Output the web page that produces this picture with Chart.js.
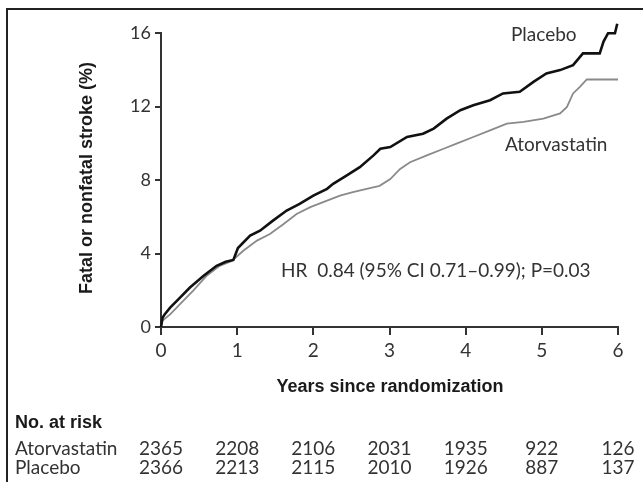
<!DOCTYPE html>
<html>
<head>
<meta charset="utf-8">
<script src="https://cdn.jsdelivr.net/npm/chart.js@4"></script>
<style>
  html, body { margin: 0; padding: 0; background: #fff; }
  #wrap { width: 643px; height: 482px; }
</style>
</head>
<body>
<div id="wrap"><canvas id="c" width="643" height="482"></canvas></div>
<script>
// ---- data ----
const placeboYears = [0, 0.02, 0.05, 0.12, 0.25, 0.38, 0.56, 0.73, 0.85, 0.95, 1.01, 1.17, 1.30, 1.47, 1.65, 1.82, 2.0, 2.18, 2.26, 2.44, 2.61, 2.79, 2.88, 3.01, 3.23, 3.44, 3.58, 3.75, 3.93, 4.10, 4.32, 4.49, 4.71, 4.89, 5.06, 5.24, 5.41, 5.54, 5.76, 5.81, 5.87, 5.96, 5.99];
const placeboPct   = [0, 0.5, 0.7, 1.05, 1.6, 2.15, 2.79, 3.33, 3.55, 3.65, 4.3, 4.97, 5.24, 5.79, 6.34, 6.70, 7.15, 7.52, 7.79, 8.25, 8.70, 9.34, 9.70, 9.79, 10.34, 10.52, 10.80, 11.34, 11.80, 12.07, 12.34, 12.71, 12.80, 13.34, 13.80, 13.98, 14.25, 14.89, 14.89, 15.53, 15.99, 15.99, 16.5];

const atorvaYears = [0, 0.02, 0.12, 0.25, 0.42, 0.60, 0.77, 0.93, 1.08, 1.26, 1.43, 1.61, 1.78, 1.96, 2.18, 2.35, 2.52, 2.70, 2.87, 3.01, 3.14, 3.27, 3.49, 3.71, 3.88, 4.10, 4.32, 4.54, 4.76, 5.02, 5.24, 5.33, 5.41, 5.50, 5.59, 6.0];
const atorvaPct   = [0, 0.35, 0.69, 1.24, 1.97, 2.79, 3.33, 3.6, 4.15, 4.70, 5.06, 5.61, 6.15, 6.52, 6.88, 7.15, 7.34, 7.52, 7.68, 8.05, 8.6, 8.97, 9.34, 9.70, 9.98, 10.34, 10.70, 11.07, 11.16, 11.34, 11.62, 11.98, 12.71, 13.07, 13.47, 13.47];

const xTicks = [0, 1, 2, 3, 4, 5, 6];
const yTicks = [0, 4, 8, 12, 16];

const riskYears   = [0, 1, 2, 3, 4, 5, 6];
const riskAtorva  = [2365, 2208, 2106, 2031, 1935, 922, 126];
const riskPlacebo = [2366, 2213, 2115, 2010, 1926, 887, 137];

const yTitle = "Fatal or nonfatal stroke (%)";
const xTitle = "Years since randomization";
const hrText = "HR  0.84 (95% CI 0.71\u20130.99); P=0.03";

// ---- helpers ----
const toXY = (xs, ys) => xs.map((x, i) => ({ x: x, y: ys[i] }));
const TXT = "#333";
const SANS = "Lato, 'Open Sans', sans-serif";
const BOLD = "bold 18px 'Liberation Sans', Arial, sans-serif";
const REG = "19px " + SANS;

const decor = {
  id: "decor",
  beforeDraw(chart) {
    const ctx = chart.ctx;
    ctx.save();
    ctx.strokeStyle = "#222";
    ctx.lineWidth = 2;
    ctx.beginPath();
    ctx.moveTo(7, 482);
    ctx.lineTo(7, 9);
    ctx.lineTo(643, 9);
    ctx.stroke();
    ctx.restore();
  },
  afterDraw(chart) {
    const ctx = chart.ctx;
    const xs = chart.scales.x, ys = chart.scales.y;
    const ca = chart.chartArea;
    ctx.save();
    // y title
    ctx.fillStyle = "#1a1a1a";
    ctx.font = BOLD;
    ctx.textAlign = "center";
    ctx.textBaseline = "middle";
    ctx.save();
    ctx.translate(87, 178);
    ctx.rotate(-Math.PI / 2);
    ctx.fillText(yTitle, 0, 0);
    ctx.restore();
    // x title
    ctx.fillText(xTitle, 390, 387);
    // series labels
    ctx.fillStyle = TXT;
    ctx.font = REG;
    ctx.textAlign = "left";
    ctx.fillText("Placebo", 511, 35);
    ctx.fillText("Atorvastatin", 505, 145);
    // HR
    ctx.fillText(hrText, 281, 271);
    // risk table
    ctx.fillStyle = "#1a1a1a";
    ctx.font = BOLD;
    ctx.fillText("No. at risk", 15, 423);
    ctx.fillStyle = TXT;
    ctx.font = REG;
    ctx.fillText("Atorvastatin", 15, 449);
    ctx.fillText("Placebo", 15, 468);
    ctx.textAlign = "center";
    riskYears.forEach((yr, i) => {
      const px = xs.getPixelForValue(yr);
      ctx.fillText(String(riskAtorva[i]), px, 449);
      ctx.fillText(String(riskPlacebo[i]), px, 468);
    });
    ctx.restore();
  }
};

new Chart(document.getElementById("c"), {
  type: "line",
  data: {
    datasets: [
      {
        label: "Placebo",
        data: toXY(placeboYears, placeboPct),
        borderColor: "#111",
        borderWidth: 2.6,
        pointRadius: 0,
        tension: 0,
        fill: false,
        clip: false
      },
      {
        label: "Atorvastatin",
        data: toXY(atorvaYears, atorvaPct),
        borderColor: "#8a8a8a",
        borderWidth: 1.8,
        pointRadius: 0,
        tension: 0,
        fill: false,
        clip: false
      }
    ]
  },
  options: {
    responsive: false,
    animation: false,
    layout: { padding: { top: 33, right: 25, left: 0, bottom: 0 } },
    plugins: { legend: { display: false }, tooltip: { enabled: false } },
    scales: {
      x: {
        type: "linear",
        min: 0, max: 6,
        afterFit(s) { s.height = 155; },
        afterBuildTicks(s) { s.ticks = xTicks.map(v => ({ value: v })); },
        grid: { display: true, drawOnChartArea: false, drawTicks: true, tickLength: 8, color: "#333", lineWidth: 2 },
        border: { display: true, color: "#333", width: 2 },
        ticks: { color: TXT, font: { family: SANS, size: 19 }, padding: 4 }
      },
      y: {
        type: "linear",
        min: 0, max: 16,
        afterFit(s) { s.width = 161; },
        afterBuildTicks(s) { s.ticks = yTicks.map(v => ({ value: v })); },
        grid: { display: true, drawOnChartArea: false, drawTicks: true, tickLength: 6, color: "#333", lineWidth: 2 },
        border: { display: true, color: "#333", width: 2 },
        ticks: { color: TXT, font: { family: SANS, size: 18 }, padding: 4 }
      }
    }
  },
  plugins: [decor]
});
</script>
</body>
</html>
